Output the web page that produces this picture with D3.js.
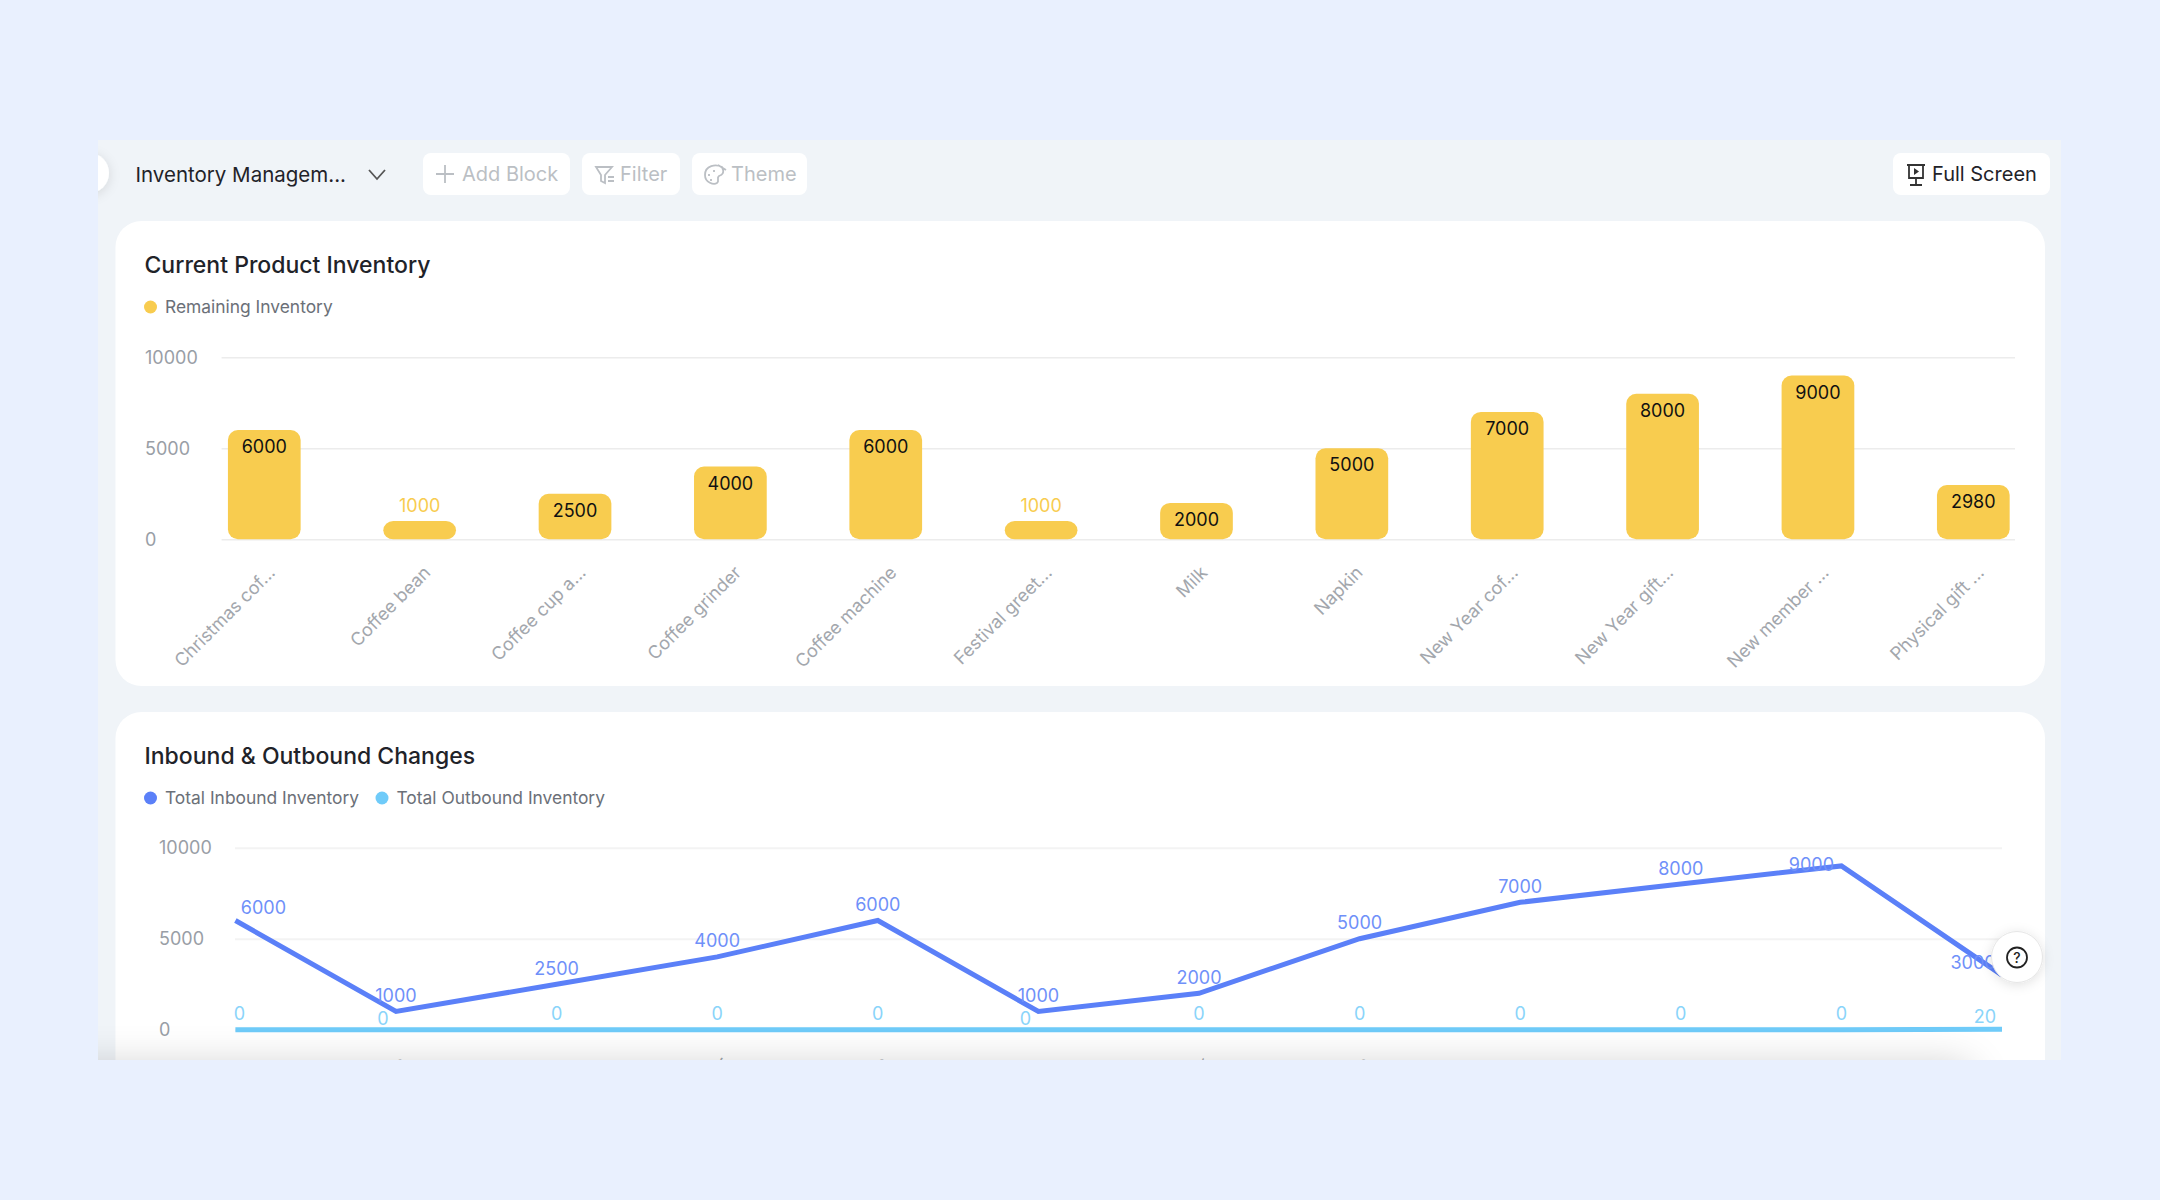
<!DOCTYPE html>
<html>

<head>
    <script type="text/javascript" src="https://d3js.org/d3.v7.min.js"></script>
    <style>
        body { margin: 0; background: #e9f0fe; }
        svg { display: block; font-family: Inter, "Noto Sans", sans-serif; }
    </style>
</head>

<body>
    <script>
        //the values
        var categories = ['Christmas cof...', 'Coffee bean', 'Coffee cup a...', 'Coffee grinder', 'Coffee machine', 'Festival greet...',
            'Milk', 'Napkin', 'New Year cof...', 'New Year gift...', 'New member ...', 'Physical gift ...'];
        var remaining = [6000, 1000, 2500, 4000, 6000, 1000, 2000, 5000, 7000, 8000, 9000, 2980];
        var inbound = [6000, 1000, 2500, 4000, 6000, 1000, 2000, 5000, 7000, 8000, 9000, 3000];
        var outbound = [0, 0, 0, 0, 0, 0, 0, 0, 0, 0, 0, 20];
        var yTicks = [0, 5000, 10000];

        var yellow = '#f8cc4f';
        var blue = '#5b80f8';
        var skyblue = '#6fcbf9';

        var svg = d3.select('body').append('svg').attr('width', 2160).attr('height', 1200);
        var defs = svg.append('defs');

        //everything is cut off at the edge of the grey panel
        defs.append('clipPath').attr('id', 'panelclip').append('rect')
            .attr('x', 98).attr('y', 140).attr('width', 1963).attr('height', 920);
        var blur = defs.append('filter').attr('id', 'blur').attr('x', '-20%').attr('y', '-300%').attr('width', '140%').attr('height', '700%');
        blur.append('feGaussianBlur').attr('stdDeviation', 21);
        var soft = defs.append('filter').attr('id', 'soft').attr('x', '-50%').attr('y', '-50%').attr('width', '200%').attr('height', '200%');
        soft.append('feDropShadow').attr('dx', 0).attr('dy', 2).attr('stdDeviation', 6).attr('flood-color', '#000').attr('flood-opacity', 0.12);

        var panel = svg.append('g').attr('clip-path', 'url(#panelclip)');
        panel.append('rect').attr('x', 98).attr('y', 140).attr('width', 1963).attr('height', 920).attr('fill', '#f0f4f8');

        //half hidden round button on the left
        panel.append('circle').attr('cx', 89).attr('cy', 173).attr('r', 20).attr('fill', '#fff').attr('filter', 'url(#soft)');

        //toolbar
        panel.append('text').attr('x', 135.5).attr('y', 182).attr('font-size', 20.5).attr('fill', '#1f2329').text('Inventory Managem...');
        panel.append('path').attr('d', 'M369 170 L377 179 L385 170').attr('fill', 'none').attr('stroke', '#555').attr('stroke-width', 1.8);

        function button(x, w, label, tx, color) {
            panel.append('rect').attr('x', x).attr('y', 153).attr('width', w).attr('height', 42).attr('rx', 8).attr('fill', '#fff');
            panel.append('text').attr('x', tx).attr('y', 181).attr('font-size', 20).attr('fill', color).text(label);
        }
        button(423, 147, 'Add Block', 462, '#bbbfc4');
        button(582, 98, 'Filter', 620, '#bbbfc4');
        button(692, 115, 'Theme', 731, '#bbbfc4');
        button(1893, 157, 'Full Screen', 1932, '#1f2329');

        function icon(d, color) {
            panel.append('path').attr('d', d).attr('fill', 'none').attr('stroke', color).attr('stroke-width', 1.8);
        }
        icon('M436 174 H454 M445 165 V183', '#bbbfc4');
        icon('M596 167 H612 L605 175 V183 L601 181 V175 Z M608 177 H614 M608 181 H614', '#bbbfc4');
        icon('M722 167 C716 164 705 165 705 175 C705 183 714 185 717 183 C720 181 716 178 719 176 C722 175 725 173 722 167 Z M714 170 V172 M709 174 V176 M711 179 V181 M718 165 L726 170', '#bbbfc4');
        icon('M1907 165 H1925 M1909 165 V178 H1923 V165 M1916 178 V185 M1910 185 H1922', '#333');
        panel.append('path').attr('d', 'M1914 168 L1919 171.5 L1914 175 Z').attr('fill', '#333');

        //a white card with title and legend
        function card(y, h, title, legend) {
            panel.append('rect').attr('x', 115.5).attr('y', y).attr('width', 1929.5).attr('height', h).attr('rx', 26).attr('fill', '#fff');
            panel.append('text').attr('x', 144.5).attr('y', y + 51.5).attr('font-size', 23).attr('font-weight', 500).attr('fill', '#1f2329').text(title);
            legend.forEach(function(d) {
                panel.append('circle').attr('cx', d.x).attr('cy', y + 86).attr('r', 6.5).attr('fill', d.color);
                panel.append('text').attr('x', d.x + 14.5).attr('y', y + 92).attr('font-size', 17.4).attr('fill', '#6b7078').text(d.name);
            });
        }
        card(221, 465, 'Current Product Inventory', [{ x: 150.5, color: yellow, name: 'Remaining Inventory' }]);
        card(712, 500, 'Inbound & Outbound Changes', [
            { x: 150.5, color: blue, name: 'Total Inbound Inventory' },
            { x: 382, color: skyblue, name: 'Total Outbound Inventory' }
        ]);

        //y axis with the gridlines, the labels are moved to the left edge
        function yAxis(scale, left, right, labelX, gridColor, gridWidth) {
            var g = panel.append('g').attr('transform', 'translate(' + left + ',0)')
                .call(d3.axisLeft(scale).tickValues(yTicks).tickSize(left - right).tickFormat(d3.format('d')));
            g.select('.domain').remove();
            g.selectAll('line').attr('stroke', gridColor).attr('stroke-width', gridWidth);
            g.selectAll('text').attr('x', labelX - left).attr('text-anchor', 'start')
                .attr('font-size', 18).attr('font-family', 'Inter').attr('fill', '#999ea6');
        }

        //rotated category labels
        function xAxis(scale, y) {
            var g = panel.append('g').attr('transform', 'translate(0,' + y + ')')
                .call(d3.axisBottom(scale).tickSize(0));
            g.select('.domain').remove();
            g.selectAll('text')
                .attr('text-anchor', 'end').attr('font-size', 18).attr('font-family', 'Inter').attr('fill', '#a3a7ad')
                .attr('transform', 'translate(7,30) rotate(-45)').attr('x', 0).attr('y', 0).attr('dy', '0.35em');
        }

        //first chart: bars
        var x1 = d3.scaleBand().domain(categories).range([186.6, 2051]).paddingInner(0.532).paddingOuter(0.266);
        var y1 = d3.scaleLinear().domain([0, 10000]).range([539.3, 357.3]);

        yAxis(y1, 221.6, 2015, 145, '#ececec', 1.5);
        xAxis(d3.scalePoint().domain(categories).range([x1(categories[0]) + x1.bandwidth() / 2, x1(categories[11]) + x1.bandwidth() / 2]), 539.3);

        panel.selectAll('.bar').data(remaining).enter().append('rect').attr('class', 'bar')
            .attr('x', function(d, i) { return x1(categories[i]); })
            .attr('y', function(d) { return y1(d); })
            .attr('width', x1.bandwidth())
            .attr('height', function(d) { return y1(0) - y1(d); })
            .attr('rx', 10)
            .attr('fill', yellow);

        //small bars have no room for the label so it goes above in the bar colour
        panel.selectAll('.barlabel').data(remaining).enter().append('text').attr('class', 'barlabel')
            .attr('x', function(d, i) { return x1(categories[i]) + x1.bandwidth() / 2; })
            .attr('y', function(d) { return d <= 1000 ? y1(d) - 9.5 : y1(d) + 23; })
            .attr('text-anchor', 'middle').attr('font-size', 18)
            .attr('fill', function(d) { return d <= 1000 ? yellow : '#111'; })
            .text(function(d) { return d; });

        //second chart: lines
        var x2 = d3.scalePoint().domain(categories).range([235.4, 2002]);
        var y2 = d3.scaleLinear().domain([0, 10000]).range([1029.7, 847.7]);

        yAxis(y2, 235, 2002, 159, '#f3f3f3', 2);
        xAxis(x2, 1029.7);

        var line = d3.line()
            .x(function(d, i) { return x2(categories[i]); })
            .y(function(d) { return y2(d); });

        panel.append('path').datum(inbound).attr('d', line).attr('fill', 'none').attr('stroke', blue).attr('stroke-width', 5);
        panel.append('path').datum(outbound).attr('d', line).attr('fill', 'none').attr('stroke', skyblue).attr('stroke-width', 5);

        //the labels dodge each other, these are the ones that were moved
        var inboundNudge = { 0: [28, 3], 10: [-30, 15], 11: [-29, 3] };
        var outboundNudge = { 0: [4, 0], 1: [-13, 5], 5: [-13, 5], 11: [-17, 4] };

        function lineLabels(values, nudge, color, up) {
            panel.selectAll(null).data(values).enter().append('text')
                .attr('x', function(d, i) { return x2(categories[i]) + (nudge[i] ? nudge[i][0] : 0); })
                .attr('y', function(d, i) { return y2(d) - up + (nudge[i] ? nudge[i][1] : 0); })
                .attr('text-anchor', 'middle').attr('font-size', 18).attr('fill', color)
                .text(function(d) { return d; });
        }
        lineLabels(inbound, inboundNudge, '#6f90f9', 9.5);
        lineLabels(outbound, outboundNudge, '#8ad4fa', 10);

        //shadow coming up from the bottom edge of the panel
        panel.append('rect').attr('x', 40).attr('y', 1066).attr('width', 1930).attr('height', 60)
            .attr('fill', '#000').attr('opacity', 0.2).attr('filter', 'url(#blur)');

        //floating help button
        panel.append('circle').attr('cx', 2017).attr('cy', 957).attr('r', 25.5)
            .attr('fill', '#fff').attr('stroke', '#e6e6e6').attr('filter', 'url(#soft)');
        panel.append('circle').attr('cx', 2017).attr('cy', 957.5).attr('r', 10).attr('fill', 'none').attr('stroke', '#222').attr('stroke-width', 1.8);
        panel.append('text').attr('x', 2017).attr('y', 962.5).attr('text-anchor', 'middle').attr('font-size', 14).attr('font-weight', 500).attr('fill', '#222').text('?');
    </script>
</body>

</html>
